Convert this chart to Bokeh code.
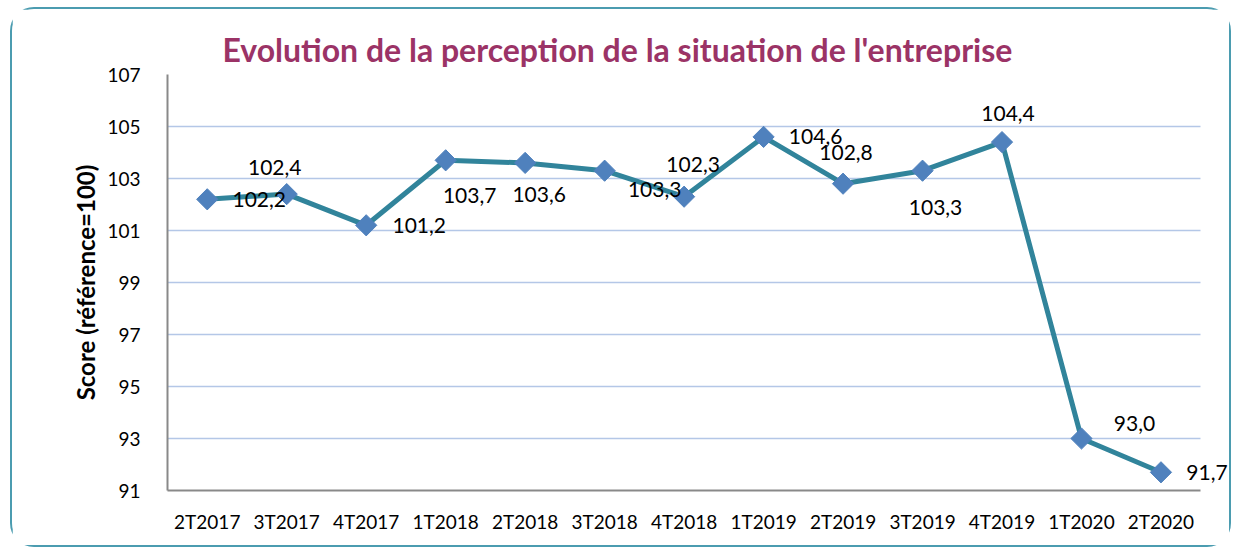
import math
from bokeh.plotting import figure
from bokeh.models import Range1d, FixedTicker, ColumnDataSource, Label
from bokeh.embed import file_html
from bokeh.resources import INLINE

categories = ["2T2017", "3T2017", "4T2017", "1T2018", "2T2018", "3T2018", "4T2018",
              "1T2019", "2T2019", "3T2019", "4T2019", "1T2020", "2T2020"]
scores = [102.2, 102.4, 101.2, 103.7, 103.6, 103.3, 102.3, 104.6, 102.8, 103.3, 104.4, 93.0, 91.7]
labels = ["102,2", "102,4", "101,2", "103,7", "103,6", "103,3", "102,3",
          "104,6", "102,8", "103,3", "104,4", "93,0", "91,7"]
y_ticks = [91, 93, 95, 97, 99, 101, 103, 105, 107]

# label placement offsets (screen px, up positive; style only)
lab_dx = [52, -12, 53, 24, 14, 50, 9, 52, 3, 13, 6, 53, 46]
lab_dy = [0, 27, 0, -35, -32, -19, 32, 0, 31, -37, 29, 15, 0]

n = len(categories)
xs = [i + 0.5 for i in range(n)]  # category centres
W, H = 1221, 540
p = figure(x_range=Range1d(0, n + 0.4), y_range=Range1d(91, 107),
           width=W, height=H, output_backend="svg", toolbar_location=None,
           min_border_left=155, min_border_right=1, min_border_top=65, min_border_bottom=59)
p.styles = {"border": "2px solid #4b9cb0", "border-radius": "24px",
            "margin-left": "10px", "margin-top": "7px"}
p.outline_line_color = None
p.background_fill_color = "white"
p.border_fill_color = "white"

p.title.text = "Evolution de la perception de la situation de l'entreprise"
p.title.align = "left"
p.title.offset = 55
p.title.text_font = "Lato"
p.title.text_font_style = "bold"
p.title.text_font_size = "32px"
p.title.text_color = "#9b3366"
p.title.standoff = 11

p.xgrid.grid_line_color = None
p.ygrid.grid_line_color = "#b4c7e7"
p.ygrid.grid_line_width = 1.5
p.ygrid.cross_bounds = (0, n)
p.yaxis.ticker = FixedTicker(ticks=y_ticks)
p.xaxis.ticker = FixedTicker(ticks=xs)
p.xaxis.major_label_overrides = {x: c for x, c in zip(xs, categories)}
p.xaxis.bounds = (0, n)

for ax in (p.xaxis, p.yaxis):
    ax.axis_line_color = "#898989"
    ax.axis_line_width = 2
    ax.major_tick_line_color = None
    ax.minor_tick_line_color = None
    ax.major_label_text_font = "Lato"
    ax.major_label_text_font_size = "19px"
    ax.major_label_text_color = "#000000"
p.yaxis.major_label_standoff = 21
p.xaxis.major_label_standoff = 13
p.yaxis.axis_label = "Score (référence=100)"
p.yaxis.axis_label_text_font = "Lato"
p.yaxis.axis_label_text_font_style = "bold"
p.yaxis.axis_label_text_font_size = "24px"
p.yaxis.axis_label_text_color = "#000000"
p.yaxis.axis_label_standoff = 4

src = ColumnDataSource(dict(x=xs, y=scores))
p.line("x", "y", source=src, line_color="#31849b", line_width=5)
p.scatter("x", "y", source=src, marker="square", size=15, angle=math.pi / 4,
          fill_color="#4f81bd", line_color="#4f81bd")

for x, v, t, dx, dy in zip(xs, scores, labels, lab_dx, lab_dy):
    p.add_layout(Label(x=x, y=v, text=t, x_offset=dx, y_offset=dy,
                       text_align="center", text_baseline="middle", text_font="Lato",
                       text_font_size="21px", text_color="#000000"))

open("out.html", "w").write(file_html(p, INLINE))
